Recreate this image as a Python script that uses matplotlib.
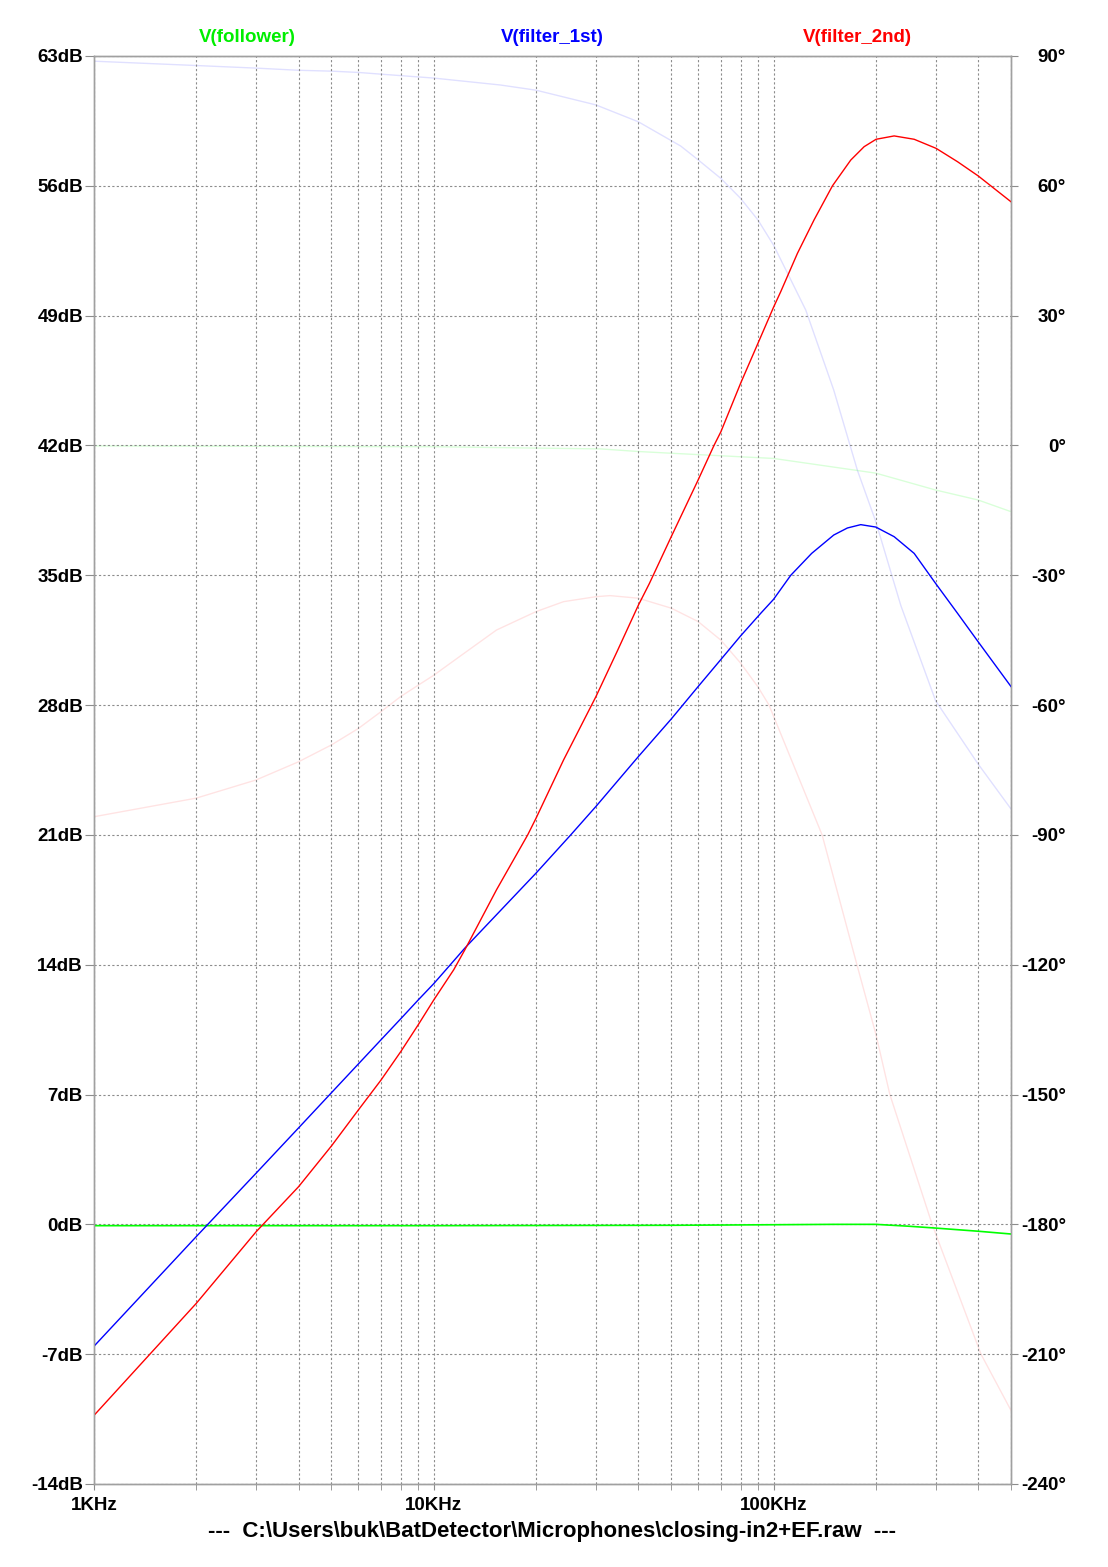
import numpy as np
import matplotlib.pyplot as plt
from matplotlib.ticker import LogLocator, NullFormatter

plt.rcParams['font.family'] = ['Liberation Sans', 'DejaVu Sans']
plt.rcParams['font.weight'] = 'bold'

# --- magnitude readings (kHz, dB) ---
f2_freq = [1, 2, 3, 4, 5, 6, 7, 8, 9, 10, 11.45, 12.35, 15.3, 18.9, 20, 24.1, 30, 34.6,
           40, 43.1, 50, 60, 66.8, 70, 80, 90, 100, 105, 117.6, 131.6, 149.1, 168.8,
           184.8, 200.4, 226.5, 259.4, 301, 348, 400.6, 500]
f2_db = [-10.3, -4.26, -0.4, 2.03, 4.23, 6.17, 7.79, 9.32, 10.76, 12.1, 13.73, 14.81,
         18.04, 21.0, 21.9, 25.04, 28.45, 30.87, 33.38, 34.55, 37.08, 40.14, 42.0, 42.74,
         45.35, 47.51, 49.45, 50.29, 52.36, 54.16, 56.0, 57.39, 58.11, 58.51, 58.69,
         58.51, 58.02, 57.3, 56.53, 55.14]

f1_freq = [1, 2, 3, 4, 5, 6, 7, 8, 9, 10, 10.97, 12.35, 20, 25.3, 30, 40, 50, 60, 70,
           80, 91.7, 100, 112.4, 129.5, 150.4, 165, 180.6, 200, 226.5, 259.4, 300, 348,
           400, 500]
f1_db = [-6.57, -0.66, 2.76, 5.2, 7.1, 8.65, 9.96, 11.09, 12.1, 12.98, 13.82, 14.9, 18.94,
         21.0, 22.53, 25.22, 27.25, 29.0, 30.46, 31.73, 32.95, 33.7, 35.0, 36.18, 37.17,
         37.55, 37.73, 37.6, 37.08, 36.18, 34.56, 32.95, 31.42, 29.0]

fol_freq = [1, 10, 50, 100, 150, 200, 250, 300, 400, 500]
fol_db = [-0.07, -0.07, -0.05, -0.02, 0.0, 0.0, -0.1, -0.2, -0.37, -0.52]

# --- phase readings (kHz, degrees) ---
f2_ph_freq = [1, 2, 3, 4, 5, 6, 7, 8, 9, 10, 12.3, 15.3, 20, 24.1, 30, 33, 40, 50, 60,
              70, 80, 90, 97, 139, 176, 200, 220, 293, 408, 500]
f2_ph = [-85.8, -81.5, -77.3, -73.1, -69.2, -65.4, -61.5, -58.0, -55.4, -53.1, -48.0,
         -42.65, -38.4, -36.1, -34.95, -34.7, -35.3, -37.6, -40.7, -45.0, -50.3, -55.8,
         -60.0, -90.0, -120.0, -136.0, -150.0, -180.0, -210.0, -223.0]

f1_ph_freq = [1, 2, 3, 4, 5, 6, 7, 10, 15.7, 20, 30, 40, 53.3, 60, 70, 80, 90, 100,
              112.4, 124.4, 150.4, 176.5, 200, 237, 300, 400, 500]
f1_ph = [88.8, 87.8, 87.2, 86.7, 86.5, 86.2, 85.8, 84.9, 83.3, 82.1, 78.7, 74.8, 69.2,
         66.0, 61.7, 57.1, 52.1, 46.3, 38.3, 31.3, 12.8, -5.7, -17.6, -37.0, -59.0,
         -73.6, -84.0]

fol_ph_freq = [1, 10, 31, 40, 50, 100, 200, 300, 400, 500]
fol_ph = [-0.1, -0.3, -0.8, -1.4, -1.8, -3.0, -6.4, -10.3, -12.6, -15.3]

db_ticks = [-14, -7, 0, 7, 14, 21, 28, 35, 42, 49, 56, 63]
deg_ticks = [-240, -210, -180, -150, -120, -90, -60, -30, 0, 30, 60, 90]
x_ticks = [1e3, 1e4, 1e5]
x_labels = ['1KHz', '10KHz', '100KHz']

grid_c = '#8c8c8c'
fs = 13.5

fig = plt.figure(figsize=(11.08, 15.67), dpi=100)
ax = fig.add_axes([94 / 1108, 1 - 1484 / 1567, (1011 - 94) / 1108, (1484 - 56) / 1567])
ax2 = ax.twinx()

# phase traces (faint)
ax2.plot(np.array(f1_ph_freq) * 1e3, f1_ph, color='#0000ff', alpha=0.12, lw=1.0)
ax2.plot(np.array(f2_ph_freq) * 1e3, f2_ph, color='#ff0000', alpha=0.11, lw=1.0)
ax2.plot(np.array(fol_ph_freq) * 1e3, fol_ph, color='#00ff00', alpha=0.15, lw=1.0)

# magnitude traces
ax.plot(np.array(fol_freq) * 1e3, fol_db, color='#00ff00', lw=1.2)
ax.plot(np.array(f1_freq) * 1e3, f1_db, color='#0000ff', lw=1.0)
ax.plot(np.array(f2_freq) * 1e3, f2_db, color='#ff0000', lw=1.0)

ax.set_zorder(ax2.get_zorder() + 1)
ax.patch.set_visible(False)

ax.set_xscale('log')
ax.set_xlim(1e3, 5e5)
ax.set_ylim(-14, 63)
ax2.set_ylim(-240, 90)

ax.set_xticks(x_ticks)
ax.set_xticklabels(x_labels)
ax.xaxis.set_minor_locator(LogLocator(base=10, subs=np.arange(2, 10)))
ax.xaxis.set_minor_formatter(NullFormatter())
ax.set_yticks(db_ticks)
ax.set_yticklabels([f'{v}dB' for v in db_ticks])
ax2.set_yticks(deg_ticks)
ax2.set_yticklabels([f'{v}°' for v in deg_ticks])
for lab in ax2.get_yticklabels():
    lab.set_horizontalalignment('right')

ax.grid(True, which='both', axis='x', color=grid_c, lw=0.8, linestyle=(0, (2, 2)))
ax.grid(True, which='major', axis='y', color=grid_c, lw=0.8, linestyle=(0, (2, 2)))

ax.tick_params(axis='x', which='both', length=4.5, color=grid_c, pad=5, labelsize=fs)
ax.tick_params(axis='y', length=6.5, color=grid_c, pad=1.5, labelsize=fs)
ax2.tick_params(axis='y', length=5, color=grid_c, pad=34.5, labelsize=fs)

for a in (ax, ax2):
    for s in a.spines.values():
        s.set_color('#a0a0a0')
        s.set_linewidth(1.0)

fig.text(247 / 1108, 1 - 37 / 1567, 'V(follower)', color='#00ee00', fontsize=fs,
         fontweight='bold', ha='center', va='center')
fig.text(552 / 1108, 1 - 37 / 1567, 'V(filter_1st)', color='#0000ff', fontsize=fs,
         fontweight='bold', ha='center', va='center')
fig.text(857 / 1108, 1 - 37 / 1567, 'V(filter_2nd)', color='#ff0000', fontsize=fs,
         fontweight='bold', ha='center', va='center')
fig.text(552 / 1108, 1 - 1532 / 1567,
         '---  C:\\Users\\buk\\BatDetector\\Microphones\\closing-in2+EF.raw  ---',
         color='black', fontsize=16, fontweight='bold', ha='center', va='center')

plt.savefig('out.png', dpi=100)
